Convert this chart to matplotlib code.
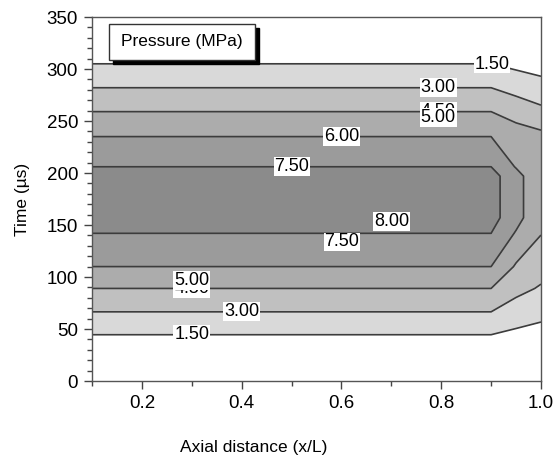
import numpy as np
import matplotlib
matplotlib.use("Agg")
import matplotlib.pyplot as plt
from matplotlib.ticker import MultipleLocator
from matplotlib.patches import Rectangle

plt.rcParams['font.family'] = ['Liberation Sans', 'DejaVu Sans']

# ---- data ----
axial_pos = [0.1, 0.9, 0.95, 1.0]                       # x/L columns
time_us = [0, 44.5, 66.5, 89, 110, 142, 157, 197, 206, 235, 259, 282, 305, 350]
p_x010 = [0, 1.5, 3.0, 4.5, 6.0, 7.5, 8.04, 8.04, 7.5, 6.0, 4.5, 3.0, 1.5, 0]
p_x090 = [0, 1.5, 3.0, 4.5, 6.0, 7.5, 8.04, 8.04, 7.5, 6.0, 4.5, 3.0, 1.5, 0]
p_x095 = [0, 1.19, 2.33, 3.42, 4.33, 5.87, 6.54, 6.54, 5.90, 5.15, 3.97, 2.47, 1.16, 0]
p_x100 = [0, 0.99, 1.91, 2.86, 3.57, 4.55, 4.74, 4.74, 4.80, 4.90, 3.35, 2.06, 0.89, 0]

line_levels = [1.5, 3.0, 4.5, 6.0, 7.5]
fill_levels = [0, 1.5, 3.0, 4.5, 6.0, 7.5, 9.0]
fill_colors = ['#ffffff', '#d9d9d9', '#c0c0c0', '#acacac', '#9b9b9b', '#8b8b8b']

x_ticks = [0.2, 0.4, 0.6, 0.8, 1.0]
x_tick_labels = ['0.2', '0.4', '0.6', '0.8', '1.0']

# label positions (x/L, time)
clabel_pos = [(0.902, 305), (0.794, 282.7), (0.794, 259), (0.6, 236),
              (0.501, 206), (0.30, 44.5), (0.40, 66.5), (0.30, 89)]
extra_labels = ['5.00', '5.00', '8.00', '7.50']
extra_x = [0.794, 0.30, 0.701, 0.601]
extra_t = [253.5, 97, 153, 133.7]

# ---- figure ----
fig = plt.figure(figsize=(5.57, 4.58), dpi=100)
ax = fig.add_axes([92/557, 77/458, 449/557, 364/458])

X, T = np.meshgrid(np.array(axial_pos), np.array(time_us))
P = np.column_stack([p_x010, p_x090, p_x095, p_x100])

ax.contourf(X, T, P, levels=fill_levels, colors=fill_colors)
cs = ax.contour(X, T, P, levels=line_levels, colors='#3c3c3c', linewidths=1.2)
labels = ax.clabel(cs, fmt='%.2f', fontsize=13, colors='black',
                   inline=False, manual=clabel_pos)
for t in labels:
    t.set_rotation(0)
    t.set_bbox(dict(facecolor='white', edgecolor='none', boxstyle='square,pad=0.05'))
    t.set_zorder(5)

for s, xx, tt in zip(extra_labels, extra_x, extra_t):
    ax.text(xx, tt, s, fontsize=13, ha='center', va='center', color='black', zorder=6,
            bbox=dict(facecolor='white', edgecolor='none', boxstyle='square,pad=0.05'))

# "Pressure (MPa)" box with drop shadow
bx0, by0, bw, bh = 0.038, 0.882, 0.325, 0.099
ax.add_patch(Rectangle((bx0 + 0.009, by0 - 0.011), bw, bh, transform=ax.transAxes,
                       facecolor='black', edgecolor='black', zorder=7))
ax.add_patch(Rectangle((bx0, by0), bw, bh, transform=ax.transAxes,
                       facecolor='white', edgecolor='#333333', linewidth=1.0, zorder=8))
ax.text(bx0 + bw/2, by0 + bh/2, 'Pressure (MPa)', transform=ax.transAxes,
        ha='center', va='center', fontsize=12.5, zorder=9)

ax.set_xlim(0.1, 1.0)
ax.set_ylim(0, 350)
ax.set_xticks(x_ticks)
ax.set_xticklabels(x_tick_labels)
ax.xaxis.set_minor_locator(MultipleLocator(0.1))
ax.yaxis.set_major_locator(MultipleLocator(50))
ax.yaxis.set_minor_locator(MultipleLocator(10))
ax.tick_params(which='major', direction='out', length=6, width=1.0, color='#444444',
               labelsize=13.5, pad=4)
ax.tick_params(which='minor', direction='out', length=3.5, width=1.0, color='#444444')
for sp in ax.spines.values():
    sp.set_color('#555555')
    sp.set_linewidth(1.0)

ax.set_xlabel('Axial distance (x/L)', fontsize=12.5)
ax.xaxis.set_label_coords(0.36, -0.162)
ax.set_ylabel('Time (µs)', fontsize=12.5, labelpad=12)

fig.savefig('out.png', dpi=100)
